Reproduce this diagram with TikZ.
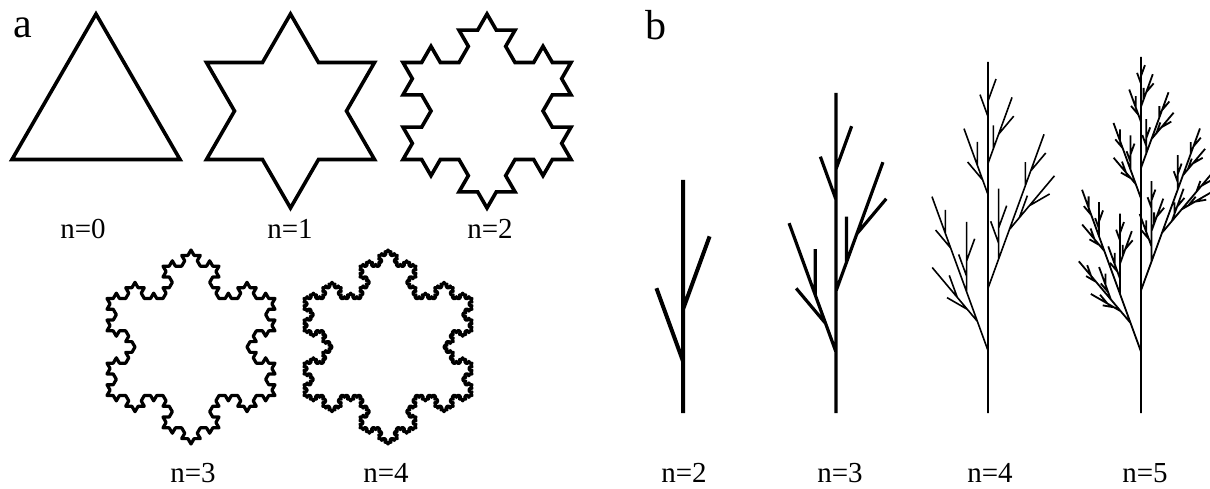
\documentclass[tikz,border=0pt]{standalone}
\usepackage{fontspec}
\setmainfont{Liberation Serif}
\usepackage{tikz}
\usetikzlibrary{lindenmayersystems}

\pgfdeclarelindenmayersystem{snowflake}{
  \rule{F -> F-F++F-F}
}
\pgfdeclarelindenmayersystem{weed}{
  \rule{X -> F[+X]F[-X]FX}
  \rule{F -> FF}
}

\tikzset{
  koch/.style={draw=black, line width=3.6pt},
  finekoch/.style={koch, line width=3.2pt, line join=round},
  plant/.style={draw=black},
  caption/.style={font=\fontsize{29}{34}\selectfont, anchor=base, inner sep=0pt},
  panel/.style={font=\fontsize{42}{50}\selectfont, anchor=base west, inner sep=0pt}
}

\begin{document}
\begin{tikzpicture}[x=1pt, y=1pt]
  \useasboundingbox (0,0) rectangle (1210,488);

  % panel a: snowflake orders
  \node[panel] (pa) at (13,450) {a};
  \begin{scope}[shift={(12,328.5)}]
    \draw[koch] (0,0) [l-system={snowflake, axiom=F++F++F, order=0, step=168pt, angle=60}] lindenmayer system -- cycle;
  \end{scope}
  \begin{scope}[shift={(206.5,328.5)}]
    \draw[koch] (0,0) [l-system={snowflake, axiom=F++F++F, order=1, step=56pt, angle=60}] lindenmayer system -- cycle;
  \end{scope}
  \begin{scope}[shift={(403,328.5)}]
    \draw[koch] (0,0) [l-system={snowflake, axiom=F++F++F, order=2, step=18.667pt, angle=60}] lindenmayer system -- cycle;
  \end{scope}
  \begin{scope}[shift={(107,92.5)}]
    \draw[finekoch] (0,0) [l-system={snowflake, axiom=F++F++F, order=3, step=6.222pt, angle=60}] lindenmayer system -- cycle;
  \end{scope}
  \begin{scope}[shift={(304,92.5)}]
    \draw[finekoch] (0,0) [l-system={snowflake, axiom=F++F++F, order=4, step=2.074pt, angle=60}] lindenmayer system -- cycle;
  \end{scope}

  \node[caption] (k0) at (83,250) {n=0};
  \node[caption] (k1) at (290,250) {n=1};
  \node[caption] (k2) at (490,250) {n=2};
  \node[caption] (k3) at (193,6) {n=3};
  \node[caption] (k4) at (386,6) {n=4};

  % panel b: branching plant
  \node[panel] (pb) at (645,448) {b};
  \begin{scope}[shift={(683,75)}, rotate=90]
    \draw[plant, line width=4pt] (0,0) [l-system={weed, axiom=X, order=2, step=25.9pt, angle=20}] lindenmayer system;
  \end{scope}
  \begin{scope}[shift={(836,75)}, rotate=90]
    \draw[plant, line width=3.2pt] (0,0) [l-system={weed, axiom=X, order=3, step=15.24pt, angle=20}] lindenmayer system;
  \end{scope}
  \begin{scope}[shift={(988,75)}, rotate=90]
    \draw[plant, line width=1.6pt] (0,0) [l-system={weed, axiom=X, order=4, step=7.8pt, angle=20}] lindenmayer system;
  \end{scope}
  \begin{scope}[shift={(1141,75)}, rotate=90]
    \draw[plant, line width=1.8pt] (0,0) [l-system={weed, axiom=X, order=5, step=3.83pt, angle=20}] lindenmayer system;
  \end{scope}

  \node[caption] (t2) at (684,6) {n=2};
  \node[caption] (t3) at (840,6) {n=3};
  \node[caption] (t4) at (990,6) {n=4};
  \node[caption] (t5) at (1145,6) {n=5};
\end{tikzpicture}
\end{document}
